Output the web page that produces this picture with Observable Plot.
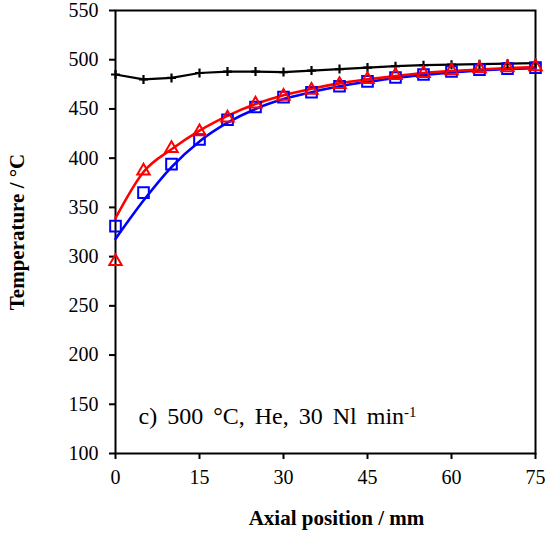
<!DOCTYPE html>
<html>
<head>
<meta charset="utf-8">
<script src="https://cdn.jsdelivr.net/npm/d3@7"></script>
<script src="https://cdn.jsdelivr.net/npm/@observablehq/plot@0.6"></script>
<style>
  html, body { margin: 0; padding: 0; background: white; }
</style>
</head>
<body>
<div id="chart"></div>
<script>
// Axial positions (mm)
const xPos = [0, 5, 10, 15, 20, 25, 30, 35, 40, 45, 50, 55, 60, 65, 70, 75];
// Black line with "+" markers
const blackT = [485, 480, 481.5, 486.5, 488, 488, 487.5, 489, 490.5, 492, 493.5, 494.5, 495, 495.5, 496, 496.5];
// Red model curve
const redModel = [339, 386, 409, 428, 443, 455, 464, 470.5, 476, 480, 483.5, 486.5, 488.5, 490, 491.5, 492.5];
// Blue model curve
const blueModel = [318, 357, 391, 417, 436, 450, 460, 467, 473, 477.5, 481.5, 484.5, 487, 489, 490.5, 491.5];
// Red triangles (measured)
const redTri = [295, 387, 410, 427, 441, 455, 463, 469, 475, 480, 484, 486, 489, 491, 492, 493];
// Blue squares (measured)
const blueSq = [331, 365, 394, 419, 439, 452, 462, 467, 473, 478, 482, 485, 488, 490, 491, 492];

const xTicks = [0, 15, 30, 45, 60, 75];
const yTicks = [100, 150, 200, 250, 300, 350, 400, 450, 500, 550];
const xLabel = "Axial position / mm";
const yLabel = "Temperature / °C";
const annotation = "c) 500 °C, He, 30 Nl min";
const annotationSup = "-1";

const rows = (ys) => xPos.map((x, i) => ({x, y: ys[i]}));

const chart = Plot.plot({
  width: 548,
  height: 535,
  marginTop: 10,
  marginRight: 13,
  marginBottom: 82,
  marginLeft: 115,
  style: {fontFamily: "'Liberation Serif', 'Times New Roman', serif", fontSize: "20px", background: "white", color: "black"},
  x: {domain: [0, 75]},
  y: {domain: [100, 550]},
  marks: [
    Plot.axisX({ticks: xTicks, tickSize: 6, tickPadding: 10, strokeWidth: 2, label: null, fontSize: 20}),
    Plot.axisY({ticks: yTicks, tickSize: 6, tickPadding: 11, strokeWidth: 2, label: null, fontSize: 20}),
    Plot.frame({stroke: "black", strokeWidth: 2}),
    Plot.line(rows(blueModel), {x: "x", y: "y", stroke: "#0000ff", strokeWidth: 2.6, curve: "monotone-x"}),
    Plot.line(rows(redModel), {x: "x", y: "y", stroke: "#ff0000", strokeWidth: 2.6, curve: "monotone-x"}),
    Plot.line(rows(blackT), {x: "x", y: "y", stroke: "black", strokeWidth: 2.2}),
    Plot.dot(rows(blackT), {x: "x", y: "y", symbol: "plus", r: 3, stroke: "black", strokeWidth: 2.2}),
    Plot.dot(rows(blueSq), {x: "x", y: "y", symbol: "square", r: 6, stroke: "#0000ff", fill: "none", strokeWidth: 2}),
    Plot.dot(rows(redTri), {x: "x", y: "y", symbol: "triangle", r: 4.6, stroke: "#ff0000", fill: "none", strokeWidth: 2}),
    Plot.text([annotation], {text: d => d, frameAnchor: "bottom-left", dx: 23, dy: -30, textAnchor: "start", lineAnchor: "bottom", fontSize: 24, fill: "black"}),
    Plot.text([xLabel], {text: d => d, frameAnchor: "bottom", dx: 11, dy: 65, textAnchor: "middle", lineAnchor: "middle", fontSize: 21, fontWeight: "bold", fill: "black"}),
    Plot.text([yLabel], {text: d => d, frameAnchor: "left", dx: -98, rotate: -90, textAnchor: "middle", lineAnchor: "middle", fontSize: 21, fontWeight: "bold", fill: "black"})
  ]
});

document.getElementById("chart").appendChild(chart);

// Superscript on the annotation
chart.querySelectorAll("text").forEach(t => {
  if (t.textContent === annotation) {
    t.style.wordSpacing = "4px";
    const ts = document.createElementNS("http://www.w3.org/2000/svg", "tspan");
    ts.setAttribute("dy", "-0.45em");
    ts.setAttribute("font-size", "0.62em");
    ts.textContent = annotationSup;
    t.appendChild(ts);
  }
});
</script>
</body>
</html>
